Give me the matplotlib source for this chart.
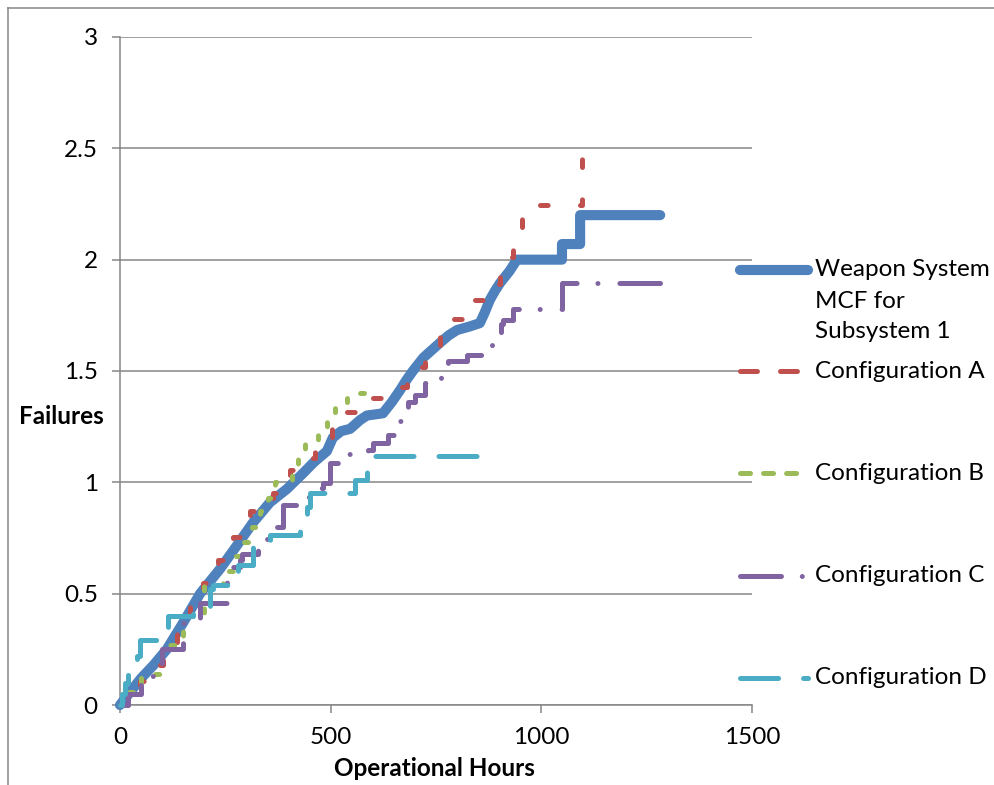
import matplotlib
matplotlib.use("Agg")
import matplotlib.pyplot as plt
from matplotlib.lines import Line2D

plt.rcParams['font.family'] = ['Lato', 'DejaVu Sans']
plt.rcParams['lines.scale_dashes'] = False

# MCF curves: (operational hours, cumulative failures)
blue_hours = [0, 25, 50, 80, 111, 150, 190, 237, 275, 316, 356, 396, 434, 460, 491, 505,
              525, 546, 570, 586, 624, 645, 665, 680, 695, 720, 759, 780, 800, 830, 854,
              865, 878, 890, 902, 925, 942, 1049, 1049, 1092, 1092, 1282]
blue_mcf = [0, 0.06, 0.12, 0.18, 0.25, 0.37, 0.50, 0.61, 0.71, 0.82, 0.91, 0.97, 1.04, 1.09,
            1.14, 1.20, 1.23, 1.24, 1.28, 1.30, 1.31, 1.36, 1.415, 1.46, 1.50, 1.56, 1.626,
            1.66, 1.684, 1.70, 1.715, 1.76, 1.82, 1.86, 1.895, 1.95, 2.0, 2.0, 2.07, 2.07,
            2.2, 2.2]

a_hours = [0, 20, 47, 75, 102, 135, 166, 197, 233, 268, 309, 363, 403, 420, 463, 503, 560,
           629, 681, 724, 759, 812, 871, 902, 933, 954, 1097, 1140]
a_mcf = [0, 0.05, 0.11, 0.18, 0.25, 0.34, 0.46, 0.55, 0.65, 0.755, 0.87, 0.95, 1.056, 1.11,
         1.20, 1.316, 1.38, 1.43, 1.52, 1.617, 1.733, 1.82, 1.89, 2.01, 2.13, 2.245, 2.497, 2.497]

b_hours = [0, 20, 50, 100, 150, 200, 244, 268, 292, 313, 332, 351, 368, 408, 422, 439, 470,
           491, 510, 539, 598]
b_mcf = [0, 0.06, 0.14, 0.27, 0.40, 0.54, 0.60, 0.67, 0.73, 0.80, 0.87, 0.93, 1.0, 1.04, 1.11,
         1.18, 1.22, 1.29, 1.356, 1.40, 1.40]

c_hours = [0, 20, 50, 100, 150, 190, 254, 285, 290, 328, 361, 387, 432, 470, 482, 498, 539,
           589, 600, 636, 665, 684, 700, 724, 762, 778, 824, 883, 904, 909, 933, 1049, 1282]
c_mcf = [0, 0.05, 0.13, 0.25, 0.37, 0.458, 0.62, 0.65, 0.68, 0.745, 0.80, 0.898, 0.934, 0.975,
         0.997, 1.087, 1.127, 1.145, 1.177, 1.213, 1.275, 1.36, 1.39, 1.445, 1.48, 1.545, 1.57,
         1.65, 1.71, 1.73, 1.78, 1.895, 1.895]

d_hours = [0, 5, 12, 20, 40, 47, 114, 173, 214, 221, 280, 316, 356, 427, 443, 450, 557, 586,
           598, 871]
d_mcf = [0, 0.05, 0.10, 0.14, 0.22, 0.29, 0.40, 0.43, 0.52, 0.54, 0.63, 0.71, 0.764, 0.80,
         0.89, 0.952, 1.01, 1.08, 1.12, 1.12]

labels = [["Weapon System", "MCF for", "Subsystem 1"], ["Configuration A"],
          ["Configuration B"], ["Configuration C"], ["Configuration D"]]
x_ticks = [0, 500, 1000, 1500]
y_ticks = [0, 0.5, 1, 1.5, 2, 2.5, 3]
y_tick_labels = ["0", "0.5", "1", "1.5", "2", "2.5", "3"]

grey = '#868686'
fs = 17.5
styles = [
    dict(color='#4F81BD', lw=7.3, ls='-', ds='default'),
    dict(color='#C0504D', lw=3.6, ls=(0, (5.5, 23.3)), ds='steps-post'),
    dict(color='#9BBB59', lw=3.6, ls=(0, (2.8, 13.1)), ds='steps-post'),
    dict(color='#8064A2', lw=3.6, ls=(0, (29.5, 15, 0.01, 15.8)), ds='steps-post'),
    dict(color='#4BACC6', lw=3.6, ls=(0, (27.4, 18)), ds='steps-post'),
]
# legend samples use slightly longer dashes
legend_ls = ['-', (0, (12.2, 16.6)), (0, (7.2, 9.4)), (0, (29.5, 15, 0.01, 15.8)),
             (0, (27.4, 18))]

fig = plt.figure(figsize=(9.95, 7.85), dpi=100)
ax = fig.add_axes([0.1206, 0.1019, 0.6352, 0.8510])

series = [(blue_hours, blue_mcf), (a_hours, a_mcf), (b_hours, b_mcf),
          (c_hours, c_mcf), (d_hours, d_mcf)]
for (h, m), st in zip(series, styles):
    ax.plot(h, m, drawstyle=st['ds'], color=st['color'], lw=st['lw'], ls=st['ls'],
            solid_capstyle='round', dash_capstyle='round', solid_joinstyle='round',
            dash_joinstyle='round', clip_on=False, zorder=3)

ax.set_xlim(0, 1500)
ax.set_ylim(0, 3)
ax.set_xticks(x_ticks)
ax.set_yticks(y_ticks)
ax.set_yticklabels(y_tick_labels)
ax.yaxis.grid(True, color=grey, lw=1.1)
ax.set_axisbelow(True)
for side in ['top', 'right']:
    ax.spines[side].set_visible(False)
for side in ['left', 'bottom']:
    ax.spines[side].set_color(grey)
    ax.spines[side].set_linewidth(1.1)
ax.tick_params(direction='out', length=6, width=1.1, color=grey, pad=10,
               labelsize=fs, labelcolor='black')

fig.text(61 / 995, 1 - 417 / 785, "Failures", fontsize=fs, fontweight='bold',
         ha='center', va='center')
fig.text(434 / 995, 1 - 768 / 785, "Operational Hours", fontsize=fs, fontweight='bold',
         ha='center', va='center')

# legend drawn by hand on the right, overlapping the plot area edge
leg_y = [270, 371, 473, 576, 678]
for y, st, lls, lines in zip(leg_y, styles, legend_ls, labels):
    yf = 1 - y / 785
    fig.add_artist(Line2D([740 / 995, 808 / 995], [yf, yf], color=st['color'], lw=st['lw'],
                          ls=lls, solid_capstyle='round', dash_capstyle='round',
                          transform=fig.transFigure))
    for i, txt in enumerate(lines):
        fig.text(815 / 995, 1 - (y + 31 * i) / 785, txt, fontsize=fs, ha='left', va='center')

# chart area border
bx, by = 8 / 995, 1 - 8 / 785
fig.add_artist(Line2D([bx, bx], [0, by], color=grey, lw=1.1, transform=fig.transFigure))
fig.add_artist(Line2D([bx, 1], [by, by], color=grey, lw=1.1, transform=fig.transFigure))

fig.savefig('out.png', dpi=100)
